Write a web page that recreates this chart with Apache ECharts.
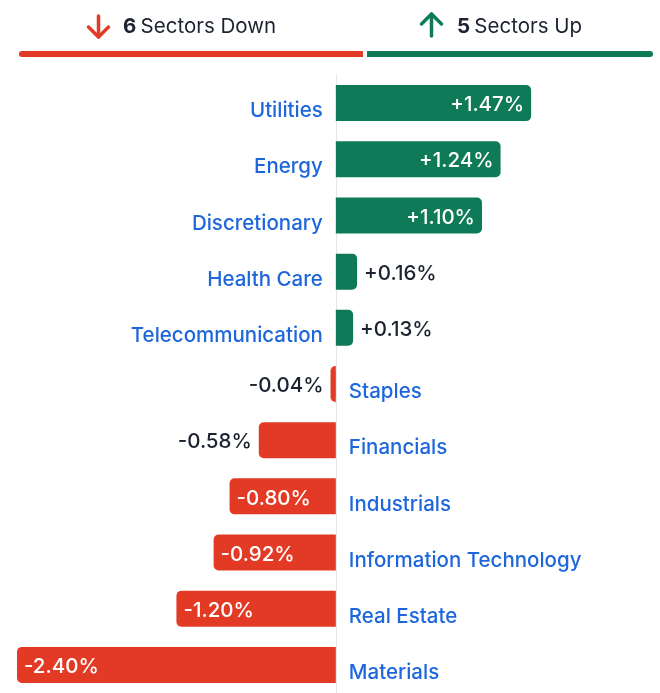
<!DOCTYPE html>
<html>
<head>
<meta charset="utf-8">
<script src="https://cdn.jsdelivr.net/npm/echarts@6/dist/echarts.min.js"></script>
<style>
  html, body { margin: 0; padding: 0; background: #fff; }
  #chart { width: 660px; height: 693px; }
</style>
</head>
<body>
<div id="chart"></div>
<script>
var sectors = ['Utilities', 'Energy', 'Discretionary', 'Health Care', 'Telecommunication', 'Staples',
    'Financials', 'Industrials', 'Information Technology', 'Real Estate', 'Materials'];
var changes = [1.47, 1.24, 1.10, 0.16, 0.13, -0.04, -0.58, -0.80, -0.92, -1.20, -2.40];

var GREEN = '#0e7a58';
var RED = '#e33a26';
var BLUE = '#1d66dc';
var INK = '#1c2230';
var FONT = 'Inter, "Noto Sans", sans-serif';

var downCount = changes.filter(function (v) { return v < 0; }).length;
var upCount = changes.filter(function (v) { return v > 0; }).length;

function fmt(v) {
    return (v > 0 ? '+' : '') + v.toFixed(2) + '%';
}

// bars with value labels
var valueData = changes.map(function (v) {
    var inside = Math.abs(v) >= 0.8;
    return {
        value: v,
        itemStyle: {
            color: v >= 0 ? GREEN : RED,
            borderRadius: v >= 0 ? [0, 5, 5, 0] : [5, 0, 0, 5]
        },
        label: {
            show: true,
            position: inside ? (v >= 0 ? 'insideRight' : 'insideLeft') : (v >= 0 ? 'right' : 'left'),
            distance: 7,
            color: inside ? '#fff' : INK
        }
    };
});

// transparent overlay carrying the sector names on the other side of zero
var nameData = changes.map(function (v) {
    return {
        value: v,
        label: {
            show: true,
            position: v >= 0 ? 'left' : 'right',
            distance: 13
        }
    };
});

var headRich = function () {
    return {
        b: { fontFamily: FONT, fontSize: 20.5, fontWeight: 'bold', color: INK, lineHeight: 22 },
        c: { fontFamily: FONT, fontSize: 20.5, fontWeight: 'normal', color: INK, lineHeight: 22 }
    };
};

var myChart = echarts.init(document.getElementById('chart'));
var option = {
    animation: false,
    textStyle: { fontFamily: FONT },
    title: [{
        left: 123,
        top: 16,
        padding: 0,
        text: '{b|' + downCount + '} {c|Sectors Down}',
        textStyle: { rich: headRich() }
    }, {
        left: 457,
        top: 16,
        padding: 0,
        text: '{b|' + upCount + '} {c|Sectors Up}',
        textStyle: { rich: headRich() }
    }],
    // arrow icons in the header
    graphic: [{
        type: 'polyline',
        shape: { points: [[98.5, 16], [98.5, 37]] },
        style: { stroke: RED, lineWidth: 3.5, fill: null, lineCap: 'round' }
    }, {
        type: 'polyline',
        shape: { points: [[88.5, 27], [98.5, 37], [108.5, 27]] },
        style: { stroke: RED, lineWidth: 3.5, fill: null, lineCap: 'round', lineJoin: 'round' }
    }, {
        type: 'polyline',
        shape: { points: [[431.5, 14], [431.5, 36]] },
        style: { stroke: GREEN, lineWidth: 3.5, fill: null, lineCap: 'round' }
    }, {
        type: 'polyline',
        shape: { points: [[421.5, 24], [431.5, 14], [441.5, 24]] },
        style: { stroke: GREEN, lineWidth: 3.5, fill: null, lineCap: 'round', lineJoin: 'round' }
    }],
    grid: [
        { left: 17, right: 0, top: 75, height: 619 },
        { left: 17, right: 5, top: 49, height: 10 }
    ],
    xAxis: [{
        type: 'value',
        gridIndex: 0,
        min: -2.4,
        max: 2.44,
        show: false
    }, {
        type: 'value',
        gridIndex: 1,
        min: 0,
        max: downCount + upCount,
        show: false
    }],
    yAxis: [{
        type: 'category',
        gridIndex: 0,
        data: sectors,
        inverse: true,
        axisLine: { show: true, lineStyle: { color: '#e6e6e6', width: 1 } },
        axisTick: { show: false },
        axisLabel: { show: false }
    }, {
        type: 'category',
        gridIndex: 1,
        data: ['split'],
        show: false
    }],
    series: [{
        type: 'bar',
        xAxisIndex: 0,
        yAxisIndex: 0,
        barWidth: 36,
        data: valueData,
        label: {
            formatter: function (p) { return fmt(p.value); },
            fontSize: 20.5,
            fontWeight: 500,
            fontFamily: FONT,
            offset: [0, 2]
        },
        z: 2
    }, {
        type: 'bar',
        xAxisIndex: 0,
        yAxisIndex: 0,
        barWidth: 36,
        barGap: '-100%',
        silent: true,
        data: nameData,
        itemStyle: { color: 'rgba(0,0,0,0)' },
        label: {
            formatter: function (p) { return p.name; },
            color: BLUE,
            fontSize: 20.5,
            fontWeight: 500,
            fontFamily: FONT,
            offset: [0, 8]
        },
        z: 3
    }, {
        type: 'bar',
        xAxisIndex: 1,
        yAxisIndex: 1,
        stack: 'split',
        barWidth: 10,
        data: [downCount],
        itemStyle: { color: RED, borderRadius: [5, 0, 0, 5], borderColor: '#fff', borderWidth: 2 },
        silent: true
    }, {
        type: 'bar',
        xAxisIndex: 1,
        yAxisIndex: 1,
        stack: 'split',
        barWidth: 10,
        data: [upCount],
        itemStyle: { color: GREEN, borderRadius: [0, 5, 5, 0], borderColor: '#fff', borderWidth: 2 },
        silent: true
    }]
};
myChart.setOption(option);
</script>
</body>
</html>
